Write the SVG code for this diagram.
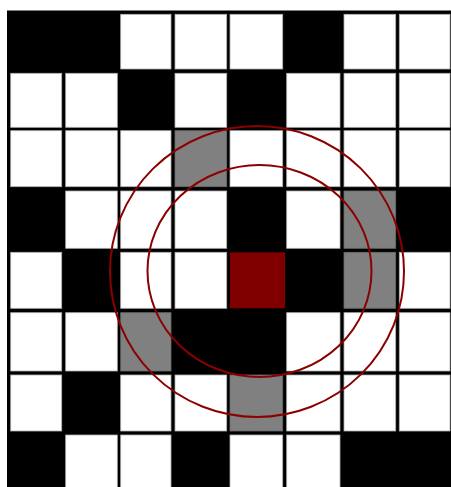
<svg xmlns="http://www.w3.org/2000/svg" width="451" height="487" viewBox="0 0 451 487">
<style>
.w{fill:#ffffff;stroke:#b0b0b0;stroke-width:0.8}
.g{fill:#808080;stroke:#6a6a6a;stroke-width:0.8}
.r{fill:#800000}
.c{fill:none;stroke:#8b0000;stroke-width:2}
</style>
<rect width="451" height="487" fill="#ffffff"/>
<rect id="board" x="7" y="10.5" width="444" height="476.5" fill="#000000"/>
<g id="cells">
<!-- row 0 -->
<rect class="w" x="120.7" y="14.3" width="50.3" height="54.7"/>
<rect class="w" x="175" y="14.3" width="51.7" height="54.7"/>
<rect class="w" x="230" y="14.3" width="52.7" height="54.7"/>
<rect class="w" x="344" y="14.3" width="51.7" height="54.7"/>
<rect class="w" x="399.3" y="14.3" width="50.7" height="54.7"/>
<!-- row 1 -->
<rect class="w" x="10.7" y="73.3" width="51" height="54"/>
<rect class="w" x="65.7" y="73.3" width="51.6" height="54"/>
<rect class="w" x="175" y="73.3" width="51.7" height="54"/>
<rect class="w" x="286.7" y="73.3" width="53.3" height="54"/>
<rect class="w" x="344" y="73.3" width="51.7" height="54"/>
<rect class="w" x="399.3" y="73.3" width="50.7" height="54"/>
<!-- row 2 -->
<rect class="w" x="10.7" y="130.7" width="51" height="56"/>
<rect class="w" x="65.7" y="130.7" width="51.6" height="56"/>
<rect class="w" x="120.7" y="130.7" width="50.3" height="56"/>
<rect class="g" x="175" y="130.7" width="51.7" height="56"/>
<rect class="w" x="230" y="130.7" width="52.7" height="56"/>
<rect class="w" x="286.7" y="130.7" width="53.3" height="56"/>
<rect class="w" x="344" y="130.7" width="51.7" height="56"/>
<rect class="w" x="399.3" y="130.7" width="50.7" height="56"/>
<!-- row 3 -->
<rect class="w" x="65.7" y="191" width="51.6" height="57.3"/>
<rect class="w" x="120.7" y="191" width="50.3" height="57.3"/>
<rect class="w" x="175" y="191" width="51.7" height="57.3"/>
<rect class="w" x="286.7" y="191" width="53.3" height="57.3"/>
<rect class="g" x="344" y="191" width="51.7" height="57.3"/>
<!-- row 4 -->
<rect class="w" x="10.7" y="252.3" width="51" height="56"/>
<rect class="w" x="120.7" y="252.3" width="50.3" height="56"/>
<rect class="w" x="175" y="252.3" width="51.7" height="56"/>
<rect class="r" x="230" y="252.3" width="55" height="56"/>
<rect class="g" x="344" y="252.3" width="51.7" height="56"/>
<rect class="w" x="399.3" y="252.3" width="50.7" height="56"/>
<!-- row 5 -->
<rect class="w" x="10.7" y="312.7" width="51" height="58.3"/>
<rect class="w" x="65.7" y="312.7" width="51.6" height="58.3"/>
<rect class="g" x="120.7" y="312.7" width="50.3" height="58.3"/>
<rect class="w" x="286.7" y="312.7" width="53.3" height="58.3"/>
<rect class="w" x="344" y="312.7" width="51.7" height="58.3"/>
<rect class="w" x="399.3" y="312.7" width="50.7" height="58.3"/>
<!-- row 6 -->
<rect class="w" x="10.7" y="375" width="51" height="56"/>
<rect class="w" x="120.7" y="375" width="50.3" height="56"/>
<rect class="w" x="175" y="375" width="51.7" height="56"/>
<rect class="g" x="230" y="375" width="52.7" height="56"/>
<rect class="w" x="286.7" y="375" width="53.3" height="56"/>
<rect class="w" x="344" y="375" width="51.7" height="56"/>
<rect class="w" x="399.3" y="375" width="50.7" height="56"/>
<!-- row 7 -->
<rect class="w" x="65.7" y="435" width="51.6" height="60"/>
<rect class="w" x="120.7" y="435" width="50.3" height="60"/>
<rect class="w" x="230" y="435" width="52.7" height="60"/>
<rect class="w" x="286.7" y="435" width="53.3" height="60"/>
</g>
<g id="rings">
<ellipse class="c" cx="257" cy="271.5" rx="147" ry="145.5"/>
<ellipse class="c" cx="259.5" cy="271" rx="112" ry="106"/>
</g>
</svg>
